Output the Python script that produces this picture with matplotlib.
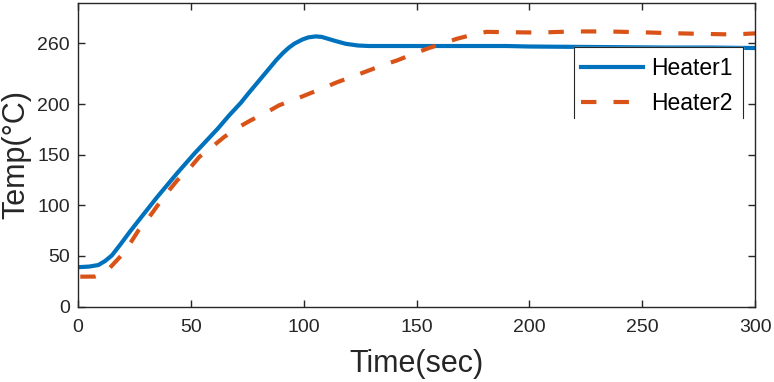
import matplotlib
matplotlib.use('Agg')
import matplotlib.pyplot as plt

# readings
t_heater1 = [1, 5, 9, 12, 15, 19, 23, 26.5, 35, 44, 51.5, 62, 67, 72, 76, 85, 88, 91, 93.5, 96,
             99.5, 102, 105.3, 108, 111, 114, 118.6, 124, 129, 140, 160, 190, 200, 230, 260,
             280, 300]
heater1 = [39, 39.5, 41, 45, 50.5, 62, 74, 84, 108, 132, 151, 176, 189, 201, 212, 236, 244, 251, 256,
           260, 264, 266, 267, 266.5, 264.5, 262.5, 259.7, 258, 257.5, 257.5, 257.5, 257.5, 257,
           256.5, 256, 256, 255.5]

t_heater2 = [1, 7.4, 10, 14, 19, 23, 27, 31.6, 35.3, 40.4, 44, 50, 53.7, 60.3, 64.7, 71.3, 76.5,
             83.8, 89, 98, 109.7, 114.9, 122.2, 128, 135.5, 141.3, 148.7, 154.6, 162, 167.8,
             175.2, 181, 189, 196, 204, 220, 234, 248, 262.6, 276.7, 290.7, 300]
heater2 = [29.5, 29.6, 31.5, 38, 50, 62, 76, 88.6, 100, 115, 124.8, 138, 147.8, 159.4, 167.5, 177.4, 184,
           192.2, 198.8, 206.4, 216.9, 221.8, 227.7, 232.6, 239, 243.2, 249.8, 254.8, 260.3, 264.6,
           268.9, 271.5, 271.2, 271, 270.8, 271.9, 271.9, 271.2, 270.2, 269.5, 268.9, 270]

x_ticks = [0, 50, 100, 150, 200, 250, 300]
y_ticks = [0, 50, 100, 150, 200, 260]

plt.rcParams['font.family'] = ['Liberation Sans', 'DejaVu Sans']
dark = '#262626'

fig = plt.figure(figsize=(7.74, 3.82), dpi=100)
ax = fig.add_axes([0.1008, 0.1976, 0.8747, 0.7945])

ax.plot(t_heater1, heater1, color='#0072BD', lw=3, label='Heater1')
ax.plot(t_heater2, heater2, color='#D95319', lw=3, linestyle=(0, (3.7, 4.1)), label='Heater2')

ax.set_xlim(0, 300)
ax.set_ylim(0, 300)
ax.set_xticks(x_ticks)
ax.set_yticks(y_ticks)
ax.tick_params(direction='in', length=5, width=1, colors=dark, labelsize=14,
               top=True, right=True, pad=6)
ax.tick_params(axis='x', pad=9)
for s in ax.spines.values():
    s.set_color(dark)
    s.set_linewidth(1.0)

ax.set_xlabel('Time(sec)', fontsize=22, color=dark, labelpad=9)
ax.set_ylabel('Temp(°C)', fontsize=22, color=dark, labelpad=4)

leg = ax.legend(loc='upper left', bbox_to_anchor=(0.7285, 0.855), frameon=False,
                fontsize=16.5, handlelength=2.7, handletextpad=0.35, labelspacing=0.53,
                borderpad=0.42, borderaxespad=0)
for txt in leg.get_texts():
    txt.set_color('black')

# legend box: top and sides only, as in the reference
bx0, bx1, by0, by1 = 0.7326, 0.982, 0.622, 0.855
ax.plot([bx0, bx0, bx1, bx1], [by0, by1, by1, by0], transform=ax.transAxes,
        color=dark, lw=0.8, clip_on=False, zorder=5)
ax.fill_between([bx0, bx1], by0, by1, transform=ax.transAxes, color='white', zorder=4)

fig.savefig('out.png', dpi=100)
